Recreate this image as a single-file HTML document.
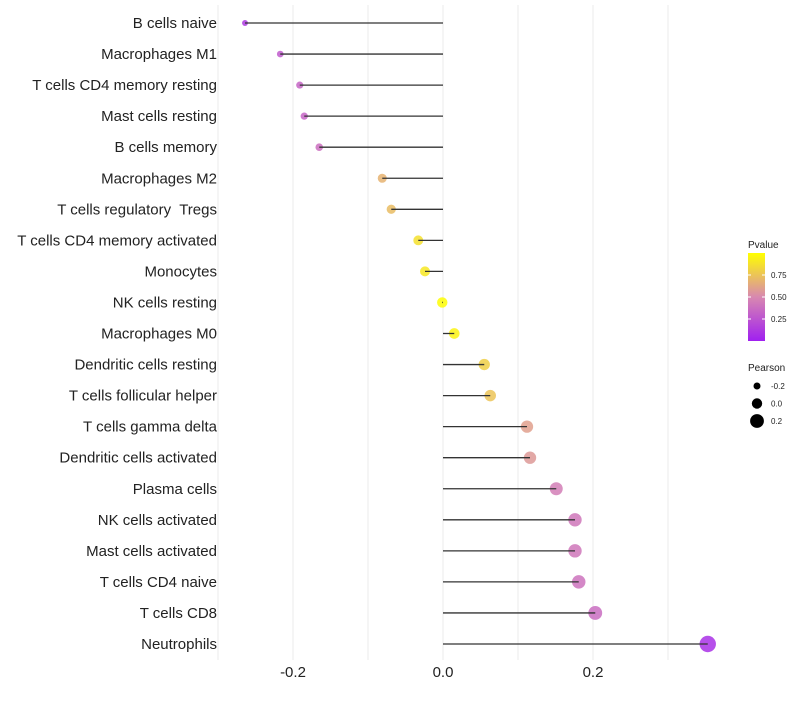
<!DOCTYPE html>
<html><head><meta charset="utf-8"><style>
body{margin:0;background:#fff;font-family:"Liberation Sans",sans-serif}
text{white-space:pre}
</style></head><body>
<svg id="chart" width="800" height="700" xmlns="http://www.w3.org/2000/svg"></svg>
<script>
const categories=["B cells naive","Macrophages M1","T cells CD4 memory resting","Mast cells resting","B cells memory","Macrophages M2","T cells regulatory  Tregs","T cells CD4 memory activated","Monocytes","NK cells resting","Macrophages M0","Dendritic cells resting","T cells follicular helper","T cells gamma delta","Dendritic cells activated","Plasma cells","NK cells activated","Mast cells activated","T cells CD4 naive","T cells CD8","Neutrophils"];
const pearson=[-0.264,-0.217,-0.191,-0.185,-0.165,-0.081,-0.069,-0.033,-0.024,-0.001,0.015,0.055,0.063,0.112,0.116,0.151,0.176,0.176,0.181,0.203,0.353];
const pvalue=[0.12,0.28,0.33,0.33,0.38,0.68,0.72,0.87,0.9,0.99,0.95,0.8,0.75,0.6,0.57,0.45,0.42,0.42,0.4,0.37,0.08];
const xTicks=[-0.2,0.0,0.2];
const xTickLabels=["-0.2","0.0","0.2"];
const legendP=[0.75,0.5,0.25];
const legendSize=[-0.2,0.0,0.2];

const NS="http://www.w3.org/2000/svg";
const svg=document.getElementById('chart');
const x=v=>443+v*750;
const y=i=>23+i*31.05;
const r=v=>Math.max(1.5,5.2+v*8.5);
function lerp(a,b,t){return a.map((c,i)=>Math.round(c+(b[i]-c)*t));}
function col(p){const s=[[160,32,240],[216,136,176],[255,255,0]];
 const c=p<0.5?lerp(s[0],s[1],p/0.5):lerp(s[1],s[2],(p-0.5)/0.5);return `rgb(${c})`;}
function el(tag,attrs,parent){const e=document.createElementNS(NS,tag);for(const k in attrs)e.setAttribute(k,attrs[k]);(parent||svg).appendChild(e);return e;}

[-0.3,-0.2,-0.1,0,0.1,0.2,0.3].forEach(v=>{
 const g=el('line',{x1:x(v),x2:x(v),y1:5,y2:660,stroke:'#ebebeb','stroke-width':1});
 
 
});
xTicks.forEach((v,i)=>{
 const t=el('text',{x:x(v),y:677,'text-anchor':'middle','font-size':15,fill:'#222'});
 t.textContent=xTickLabels[i];
 
 
});
categories.forEach((c,i)=>{
 const t=el('text',{x:217,y:y(i)+5,'text-anchor':'end','font-size':15,fill:'#222'});
 t.textContent=c;
 
 
 const d=el('circle',{cx:x(pearson[i]),cy:y(i),r:r(pearson[i]),fill:col(pvalue[i]),'fill-opacity':0.85});
 
 
 const l=el('line',{x1:x(0),x2:x(pearson[i]),y1:y(i),y2:y(i),stroke:'#333','stroke-width':1.3});
 
 
});
const lt=el('text',{x:748,y:248,'font-size':10,fill:'#222'});lt.textContent='Pvalue';


const defs=el('defs',{});
const gr=el('linearGradient',{id:'pg',x1:0,y1:1,x2:0,y2:0},defs);
[0,0.5,1].forEach(p=>el('stop',{offset:p,'stop-color':col(p)},gr));
const cb=el('rect',{x:748,y:253,width:17,height:88,fill:'url(#pg)'});


legendP.forEach(p=>{const yy=341-p*88;
 el('line',{x1:748,x2:751,y1:yy,y2:yy,stroke:'#fff'});el('line',{x1:762,x2:765,y1:yy,y2:yy,stroke:'#fff'});
 const t=el('text',{x:771,y:yy+3,'font-size':8,fill:'#222'});t.textContent=p.toFixed(2);
 
 
});
const st=el('text',{x:748,y:371,'font-size':10,fill:'#222'});st.textContent='Pearson';


legendSize.forEach((v,i)=>{const yy=386+i*17.5;
 const c=el('circle',{cx:757,cy:yy,r:r(v),fill:'#000'});
 
 
 const t=el('text',{x:771,y:yy+3,'font-size':8,fill:'#222'});t.textContent=v.toFixed(1);
 
 
});
</script>
</body></html>
